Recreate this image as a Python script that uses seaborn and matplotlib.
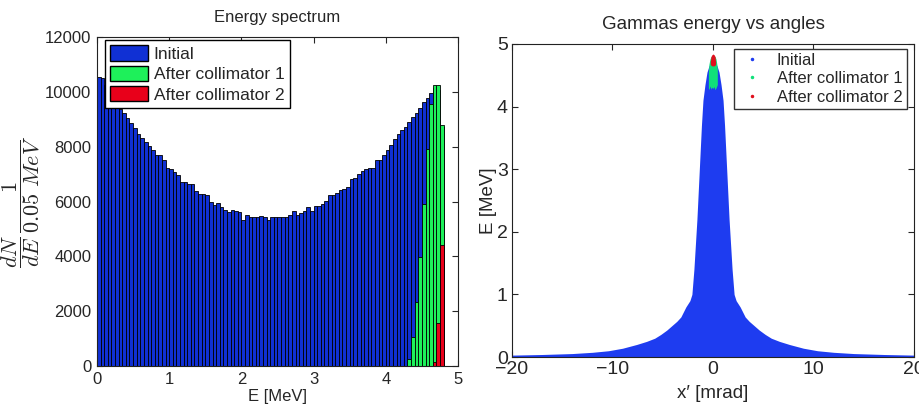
import numpy as np
import pandas as pd
import matplotlib
matplotlib.use("Agg")
import matplotlib.pyplot as plt
import seaborn as sns
from matplotlib.patches import Patch
from matplotlib.lines import Line2D

sns.set_style("ticks")
plt.rcParams['font.family'] = ['Liberation Sans', 'DejaVu Sans']
plt.rcParams['mathtext.fontset'] = 'cm'

# --- energy spectrum, bins of 0.05 MeV from 0 to 4.8 ---
bin_width = 0.05
initial_counts = [
    10550, 10500, 10250, 10000, 9800, 9600, 9380, 9220, 9030, 8850,
    8670, 8470, 8300, 8180, 8020, 7880, 7700, 7690, 7510, 7220,
    7200, 7090, 6960, 6720, 6700, 6640, 6640, 6400, 6270, 6270,
    6240, 5990, 5870, 5960, 5810, 5690, 5630, 5690, 5665, 5630,
    5330, 5510, 5450, 5420, 5420, 5480, 5450, 5330, 5450, 5450,
    5420, 5446, 5446, 5507, 5665, 5507, 5592, 5653, 5788, 5665,
    5836, 5836, 5896, 6018, 6225, 6225, 6322, 6420, 6456, 6541,
    6809, 6845, 6991, 7100, 7174, 7234, 7240, 7514, 7514, 7696,
    7879, 8061, 8268, 8450, 8608, 8729, 8888, 9092, 9215, 9400,
    9620, 9790, 9947, 10150, 10050, 8700,
]
coll1_first_bin = 86
coll1_counts = [240, 1070, 2346, 3975, 5900, 7915, 9545, 10249, 10249, 8790]
coll2_first_bin = 93
coll2_counts = [135, 1580, 4414]

# --- gammas energy vs angle: envelopes of the point clouds ---
initial_x = [-20, -17, -14, -12, -10.4, -9, -7.6, -6.6, -5.8, -5.2, -4.6, -4.1,
             -3.6, -3.2, -2.7, -2.3, -2.1, -1.9, -1.75, -1.6, -1.45, -1.3, -1.15,
             -1.0, -0.8, -0.6, -0.4, -0.2, 0,
             0.2, 0.4, 0.6, 0.8, 1.0, 1.15, 1.3, 1.45, 1.6, 1.75, 1.9, 2.1,
             2.3, 2.7, 3.2, 3.6, 4.1, 4.6, 5.2, 5.8, 6.6, 7.6, 9, 10.4,
             12, 14, 17, 20]
initial_e = [0.03, 0.04, 0.055, 0.075, 0.1, 0.14, 0.2, 0.25, 0.3, 0.36, 0.43, 0.5,
             0.57, 0.64, 0.8, 0.9, 1.0, 1.4, 1.8, 2.2, 2.7, 3.2, 3.7,
             4.1, 4.35, 4.55, 4.65, 4.72, 4.75,
             4.72, 4.65, 4.55, 4.35, 4.1, 3.7, 3.2, 2.7, 2.2, 1.8, 1.4, 1.0,
             0.9, 0.8, 0.64, 0.57, 0.5, 0.43, 0.36, 0.3, 0.25, 0.2, 0.14, 0.1,
             0.075, 0.055, 0.04, 0.03]
coll1_x = [-0.46, -0.4, -0.3, -0.2, -0.1, 0, 0.1, 0.2, 0.3, 0.38, 0.43]
coll1_top = [4.55, 4.68, 4.76, 4.8, 4.81, 4.82, 4.81, 4.8, 4.76, 4.68, 4.6]
coll1_bottom = [4.3, 4.27, 4.33, 4.28, 4.31, 4.29, 4.32, 4.27, 4.3, 4.33, 4.35]
coll2_x = [-0.27, -0.2, -0.1, 0, 0.1, 0.2, 0.26]
coll2_top = [4.72, 4.8, 4.83, 4.84, 4.83, 4.8, 4.72]
coll2_bottom = [4.68, 4.66, 4.65, 4.65, 4.65, 4.66, 4.68]

blue_bar = '#1030d4'
green_bar = '#1ef05a'
red_bar = '#e8001a'
blue_pt = '#1e3cf0'
green_pt = '#10e07a'
red_pt = '#e0101e'

fig = plt.figure(figsize=(9.2, 4.05), dpi=100)
ax1 = fig.add_axes([97 / 920, 39 / 405, 361 / 920, 329 / 405])
ax2 = fig.add_axes([512 / 920, 48 / 405, 402 / 920, 313 / 405])

edges = np.round(np.arange(0, len(initial_counts) + 1) * bin_width, 4)
centers = edges[:-1] + bin_width / 2

spec = pd.DataFrame({'E': centers, 'initial': initial_counts})
c1 = pd.DataFrame({'E': centers[coll1_first_bin:coll1_first_bin + len(coll1_counts)],
                   'n': coll1_counts})
c2 = pd.DataFrame({'E': centers[coll2_first_bin:coll2_first_bin + len(coll2_counts)],
                   'n': coll2_counts})

sns.histplot(data=spec, x='E', weights='initial', binwidth=bin_width, binrange=(0, 4.8),
             color=blue_bar, alpha=1, edgecolor='k', linewidth=0.6, ax=ax1)
sns.histplot(data=c1, x='E', weights='n', binwidth=bin_width,
             binrange=(coll1_first_bin * bin_width, 4.8),
             color=green_bar, alpha=1, edgecolor='k', linewidth=0.6, ax=ax1)
sns.histplot(data=c2, x='E', weights='n', binwidth=bin_width,
             binrange=(coll2_first_bin * bin_width, 4.8),
             color=red_bar, alpha=1, edgecolor='k', linewidth=0.6, ax=ax1)

ax1.set_xlim(0, 5)
ax1.set_ylim(0, 12000)
ax1.set_xticks([0, 1, 2, 3, 4, 5])
ax1.set_yticks(range(0, 12001, 2000))
ax1.tick_params(direction='in', top=True, right=True, labelsize=12, length=4, pad=4)
ax1.set_title('Energy spectrum', fontsize=12, pad=11)
ax1.set_xlabel('E [MeV]', fontsize=12, labelpad=2)
ax1.set_ylabel(r'$\dfrac{dN}{dE}\,\dfrac{1}{0.05\ MeV}$', fontsize=16, labelpad=2)
handles1 = [Patch(facecolor=blue_bar, edgecolor='k', label='Initial'),
            Patch(facecolor=green_bar, edgecolor='k', label='After collimator 1'),
            Patch(facecolor=red_bar, edgecolor='k', label='After collimator 2')]
ax1.legend(handles=handles1, loc='upper left', bbox_to_anchor=(0.022, 0.99),
           fontsize=12.5, fancybox=False, edgecolor='k', framealpha=1,
           handlelength=2.2, handleheight=1.0, handletextpad=0.3,
           borderpad=0.3, labelspacing=0.2, borderaxespad=0)

# energy vs angle
ax2.fill_between(initial_x, 0, initial_e, color=blue_pt, lw=0)
ax2.fill_between(coll1_x, coll1_bottom, coll1_top, color=green_pt, lw=0)
ax2.fill_between(coll2_x, coll2_bottom, coll2_top, color=red_pt, lw=0)
ax2.set_xlim(-20, 20)
ax2.set_ylim(0, 5)
ax2.set_xticks([-20, -10, 0, 10, 20])
ax2.set_xticklabels(['\u221220', '\u221210', '0', '10', '20'])
ax2.set_yticks([0, 1, 2, 3, 4, 5])
ax2.tick_params(direction='in', top=True, right=True, labelsize=14, length=4, pad=3)
ax2.set_title('Gammas energy vs angles', fontsize=13.5, pad=11)
ax2.set_xlabel('x\u2032 [mrad]', fontsize=13.5, labelpad=5)
ax2.set_ylabel('E [MeV]', fontsize=13.5, labelpad=0)
handles2 = [Line2D([], [], ls='none', marker='.', ms=3, color=blue_pt, label='Initial'),
            Line2D([], [], ls='none', marker='.', ms=3, color=green_pt, label='After collimator 1'),
            Line2D([], [], ls='none', marker='.', ms=3, color=red_pt, label='After collimator 2')]
ax2.legend(handles=handles2, loc='upper right', bbox_to_anchor=(0.982, 0.985),
           fontsize=12, fancybox=False, edgecolor='#333333', framealpha=1,
           handlelength=1.6, handletextpad=0.7, borderpad=0.25,
           labelspacing=0.2, borderaxespad=0)

for ax in (ax1, ax2):
    for s in ax.spines.values():
        s.set_linewidth(0.8)
        s.set_color('#222222')

fig.savefig('out.png', dpi=100)
